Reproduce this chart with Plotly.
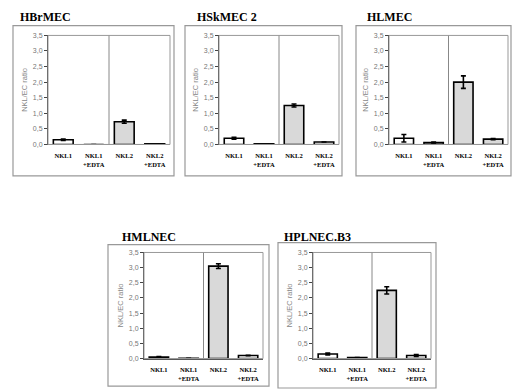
import plotly.graph_objects as go

W, H = 512, 392

panel_titles = ["HBrMEC", "HSkMEC 2", "HLMEC", "HMLNEC", "HPLNEC.B3"]
categories = ["<b>NKL1</b>", "<b>NKL1<br>+EDTA</b>", "<b>NKL2</b>", "<b>NKL2<br>+EDTA</b>"]
values = [
    [0.15, 0.00, 0.73, 0.02],
    [0.20, 0.02, 1.25, 0.08],
    [0.20, 0.06, 2.00, 0.17],
    [0.05, 0.01, 3.05, 0.10],
    [0.15, 0.03, 2.25, 0.10],
]
errors = [
    [0.02, 0.00, 0.05, 0.00],
    [0.03, 0.00, 0.05, 0.00],
    [0.12, 0.02, 0.20, 0.02],
    [0.02, 0.00, 0.08, 0.01],
    [0.03, 0.00, 0.12, 0.03],
]
bar_colors = [
    ["white", "white", "#d9d9d9", "white"],
    ["white", "white", "#d9d9d9", "white"],
    ["white", "white", "#d9d9d9", "#d9d9d9"],
    ["white", "white", "#d9d9d9", "white"],
    ["white", "white", "#d9d9d9", "white"],
]
y_ticks = [0, 0.5, 1.0, 1.5, 2.0, 2.5, 3.0, 3.5]
y_ticktext = ["0,0", "0,5", "1,0", "1,5", "2,0", "2,5", "3,0", "3,5"]

SERIF = "Liberation Serif, Times New Roman, DejaVu Serif, serif"
SANS = "Liberation Sans, Arial, sans-serif"

plot_px = [
    (48, 170, 32, 143),
    (219, 339, 32, 143),
    (389, 508, 32, 143),
    (144, 263, 253, 361),
    (313, 431, 253, 361),
]
box_px = [
    (13, 174, 22, 175),
    (185, 342, 22, 175),
    (356, 511, 22, 175),
    (108, 269, 245, 389),
    (278, 436, 243, 391),
]
title_px = [(18, 13), (195, 13), (365, 13), (120, 237), (282, 237)]

def px_x(x):
    return x / W

def px_y(y):
    return 1 - y / H

fig = go.Figure()
shapes = []
annotations = []

for i in range(5):
    ax = "" if i == 0 else str(i + 1)
    xa = "x" + ax
    ya = "y" + ax
    x0, x1, yt, yb = plot_px[i]
    fig.add_trace(go.Bar(
        x=list(range(4)), y=values[i],
        width=0.65,
        marker=dict(color=bar_colors[i], line=dict(color="black", width=1.6)),
        error_y=dict(type="data", array=errors[i], visible=True,
                     color="black", thickness=1.6, width=2.5),
        xaxis=xa, yaxis=ya, showlegend=False, hoverinfo="skip",
    ))
    fig.layout["xaxis" + ax] = dict(
        domain=[px_x(x0), px_x(x1)], anchor=ya,
        range=[-0.5, 3.5], tickvals=list(range(4)), ticktext=categories,
        tickfont=dict(family=SERIF, size=6.5, color="black"),
        showline=True, linecolor="#555", linewidth=1, mirror=False,
        showgrid=False, zeroline=False, ticks="", fixedrange=True,
        tickangle=0, ticklabelstandoff=5,
    )
    fig.layout["yaxis" + ax] = dict(
        domain=[px_y(yb), px_y(yt)], anchor=xa,
        range=[0, 3.5], tickvals=y_ticks, ticktext=y_ticktext,
        tickfont=dict(family=SANS, size=7, color="#777"),
        showline=True, linecolor="#444", linewidth=1,
        ticks="outside", ticklen=3, tickcolor="#444",
        showgrid=False, zeroline=False, fixedrange=True,
        title=dict(text="NKL/EC ratio", font=dict(family=SANS, size=7.5, color="#888"), standoff=4),
    )
    shapes.append(dict(type="rect", xref="paper", yref="paper",
                       x0=px_x(x0), x1=px_x(x1), y0=px_y(yb), y1=px_y(yt),
                       line=dict(color="#999", width=1)))
    shapes.append(dict(type="line", xref=xa, yref=ya, x0=1.5, x1=1.5, y0=0, y1=3.5,
                       line=dict(color="#888", width=1)))
    bx0, bx1, by0, by1 = box_px[i]
    shapes.append(dict(type="rect", xref="paper", yref="paper",
                       x0=px_x(bx0), x1=px_x(bx1), y0=px_y(by1), y1=px_y(by0),
                       line=dict(color="#999", width=1.2)))
    tx, ty = title_px[i]
    annotations.append(dict(text="<b>" + panel_titles[i] + "</b>", xref="paper", yref="paper",
                            x=px_x(tx), y=px_y(ty), xanchor="left", yanchor="middle",
                            showarrow=False,
                            font=dict(family=SERIF, size=12, color="black")))

fig.update_layout(
    width=W, height=H, margin=dict(l=0, r=0, t=0, b=0),
    paper_bgcolor="white", plot_bgcolor="white",
    shapes=shapes, annotations=annotations, bargap=0.3,
)
fig.write_html("out.html", config={"displayModeBar": False, "staticPlot": True},
               post_script="document.body.style.margin='0';document.body.style.overflow='hidden';")
